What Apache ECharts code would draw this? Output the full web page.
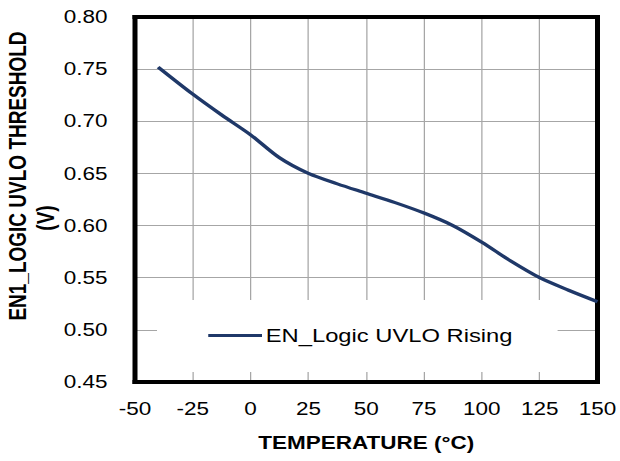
<!DOCTYPE html>
<html>
<head>
<meta charset="utf-8">
<script src="https://cdn.jsdelivr.net/npm/echarts@6/dist/echarts.min.js"></script>
<style>
html,body{margin:0;padding:0;background:#fff;overflow:hidden;}
#wrap{width:620px;height:461px;overflow:hidden;}
#chart{width:496px;height:461px;transform:scaleX(1.25);transform-origin:0 0;}
</style>
</head>
<body>
<div id="wrap"><div id="chart"></div></div>
<script>
// Data
var temperatures = [-40, -25, -12.5, 0, 12.5, 25, 37.5, 50, 62.5, 75, 87.5, 100, 112.5, 125, 137.5, 150];
var thresholdRising = [0.752, 0.726, 0.706, 0.687, 0.665, 0.650, 0.640, 0.631, 0.622, 0.612, 0.600, 0.584, 0.566, 0.550, 0.538, 0.527];
var seriesName = 'EN_Logic UVLO Rising';
var xTitle = 'TEMPERATURE (°C)';
var yTitle1 = 'EN1_LOGIC UVLO THRESHOLD';
var yTitle2 = '(V)';

var FONT = 'Liberation Sans, Arial, sans-serif';
var S = 1.25; // horizontal stretch of the reference
var chart = echarts.init(document.getElementById('chart'), null, {renderer: 'svg'});
var points = temperatures.map(function (t, i) { return [t, thresholdRising[i]]; });
var frame = {show: true, onZero: false, lineStyle: {color: '#000', width: 4, cap: 'square'}};

chart.setOption({
  animation: false,
  backgroundColor: '#fff',
  grid: {left: 135 / S, right: 20 / S, top: 17, bottom: 79},
  legend: {
    data: [{name: seriesName, icon: 'rect'}],
    left: 157 / S, top: 300,
    padding: [26, 36, 27, 41],
    backgroundColor: '#fff',
    itemWidth: 43, itemHeight: 3, itemGap: 0,
    itemStyle: {color: '#1f3868'},
    textStyle: {fontFamily: FONT, fontSize: 19, color: '#000', padding: [0, 0, 0, -2]}
  },
  xAxis: [{
    type: 'value', min: -50, max: 150, interval: 25, position: 'bottom',
    axisLine: frame, axisTick: {show: false},
    splitLine: {lineStyle: {color: '#a6a6a6', width: 1}},
    axisLabel: {fontFamily: FONT, fontSize: 18, color: '#000', margin: 18},
    name: xTitle, nameLocation: 'middle', nameGap: 52,
    nameTextStyle: {fontFamily: FONT, fontSize: 18, fontWeight: 'bold', color: '#000'}
  }, {
    type: 'value', min: -50, max: 150, interval: 25, position: 'top',
    axisLine: frame, axisTick: {show: false}, axisLabel: {show: false}, splitLine: {show: false}
  }],
  yAxis: [{
    type: 'value', min: 0.45, max: 0.80, interval: 0.05, position: 'left',
    axisLine: frame, axisTick: {show: false},
    splitLine: {lineStyle: {color: '#a6a6a6', width: 1}},
    axisLabel: {fontFamily: FONT, fontSize: 18, color: '#000', margin: 22,
      formatter: function (v) { return v.toFixed(2); }}
  }, {
    type: 'value', min: 0.45, max: 0.80, interval: 0.05, position: 'right',
    axisLine: frame, axisTick: {show: false}, axisLabel: {show: false}, splitLine: {show: false}
  }],
  graphic: [
    {type: 'text', x: 18.5 / S, y: 176, rotation: Math.PI / 2,
      style: {text: yTitle1, fontFamily: FONT, fontSize: 19, fontWeight: 'bold', fill: '#000', align: 'center', verticalAlign: 'middle'}},
    {type: 'text', x: 46 / S, y: 218, rotation: Math.PI / 2,
      style: {text: yTitle2, fontFamily: FONT, fontSize: 19, fontWeight: 'bold', fill: '#000', align: 'center', verticalAlign: 'middle'}}
  ],
  series: [{
    name: seriesName, type: 'line', data: points,
    smooth: 0.3, showSymbol: false, symbol: 'none',
    lineStyle: {color: '#1f3868', width: 3.2},
    itemStyle: {color: '#1f3868'}
  }]
});
</script>
</body>
</html>
